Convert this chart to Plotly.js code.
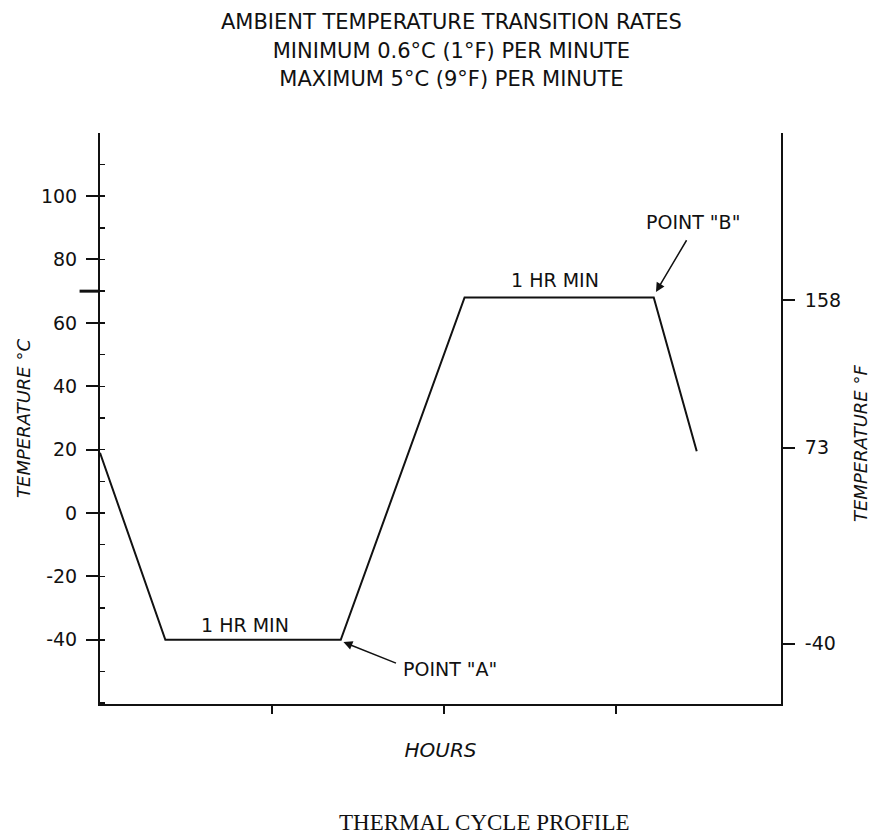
<!DOCTYPE html>
<html>
<head>
<meta charset="utf-8">
<script src="https://cdn.plot.ly/plotly-3.0.1.min.js"></script>
<style>html,body{margin:0;padding:0;background:#fff;}</style>
</head>
<body>
<div id="chart" style="width:870px;height:836px;"></div>
<script>
// Data
const hours = [0, 0.38, 1.40, 2.12, 3.22, 3.47];
const tempC = [19, -40, -40, 68, 68, 19.5];
const cTickVals = [-40, -20, 0, 20, 40, 60, 80, 100];
const fTickVals = [-40, 73, 158];
const hourTicks = [1, 2, 3];
const titleLines = [
  'AMBIENT TEMPERATURE TRANSITION RATES',
  'MINIMUM 0.6°C (1°F) PER MINUTE',
  'MAXIMUM 5°C (9°F) PER MINUTE'
];

const sans = 'DejaVu Sans, Liberation Sans, Arial, sans-serif';
const serif = 'Liberation Serif, Times New Roman, serif';

const trace = {
  x: hours, y: tempC, type: 'scatter', mode: 'lines',
  line: {color: '#111', width: 2}, hoverinfo: 'skip', showlegend: false
};
// invisible trace carrying the right-hand (°F) axis
const traceF = {
  x: [hours[0]], y: [fTickVals[0]], yaxis: 'y2', type: 'scatter', mode: 'markers',
  marker: {opacity: 0}, hoverinfo: 'skip', showlegend: false
};

const layout = {
  width: 870, height: 836,
  margin: {l: 100, r: 89, t: 133, b: 132},
  paper_bgcolor: '#fff', plot_bgcolor: '#fff',
  font: {family: sans, color: '#111', size: 19},
  title: {
    text: titleLines.map(t => '<span style="font-size:21px">' + t + '</span>').join('<br>'),
    font: {family: sans, size: 22, color: '#111'},
    x: 0.516, xanchor: 'center', xref: 'paper',
    y: 1 - 29/836, yanchor: 'middle', yref: 'container'
  },
  xaxis: {
    range: [0, 3.96], showgrid: false, zeroline: false,
    showline: true, linecolor: '#111', linewidth: 2,
    tickmode: 'array', tickvals: hourTicks, showticklabels: false,
    ticks: 'outside', ticklen: 8, tickwidth: 2, tickcolor: '#111',
    title: {text: '<i>HOURS</i>', font: {family: sans, size: 20}, standoff: 30}
  },
  yaxis: {
    range: [-60.25, 119.9], showgrid: false, zeroline: false,
    showline: true, linecolor: '#111', linewidth: 2,
    tickmode: 'array', tickvals: cTickVals, ticktext: cTickVals.map(String),
    ticks: 'outside', ticklen: 12, tickwidth: 2, tickcolor: '#111',
    ticklabelstandoff: 5,
    tickfont: {family: sans, size: 19},
    minor: {dtick: 10, tick0: 10, ticks: 'inside', ticklen: 5, tickwidth: 1.5, tickcolor: '#111'},
    title: {text: '<i>TEMPERATURE °C</i>', font: {family: sans, size: 18}, standoff: 6}
  },
  yaxis2: {
    overlaying: 'y', side: 'right',
    range: [-74.85, 254.3], showgrid: false, zeroline: false,
    showline: true, linecolor: '#111', linewidth: 2,
    tickmode: 'array', tickvals: fTickVals, ticktext: fTickVals.map(String),
    ticks: 'outside', ticklen: 12, tickwidth: 2, tickcolor: '#111',
    ticklabelstandoff: 6,
    tickfont: {family: sans, size: 19}
  },
  shapes: [
    {type: 'line', xref: 'paper', yref: 'y', x0: -0.03, x1: 0, y0: 70, y1: 70,
     line: {color: '#111', width: 3}}
  ],
  annotations: [
    {text: '1 HR MIN', x: 0.843, y: -35.3, xref: 'x', yref: 'y', showarrow: false,
     font: {family: sans, size: 19}},
    {text: '1 HR MIN', x: 2.645, y: 73.5, xref: 'x', yref: 'y', showarrow: false,
     font: {family: sans, size: 19}},
    {text: 'POINT "A"', x: 2.035, y: -49.1, xref: 'x', yref: 'y', showarrow: false,
     font: {family: sans, size: 19}},
    {text: '', x: 1.41, y: -40.6, xref: 'x', yref: 'y', showarrow: true,
     ax: 55, ay: 22, arrowhead: 2, arrowsize: 1.2, arrowwidth: 1.5, arrowcolor: '#111', standoff: 1},
    {text: 'POINT "B"', x: 3.45, y: 91.8, xref: 'x', yref: 'y', showarrow: false,
     font: {family: sans, size: 19}},
    {text: '', x: 3.23, y: 69.5, xref: 'x', yref: 'y', showarrow: true,
     ax: 32, ay: -54, arrowhead: 2, arrowsize: 1.2, arrowwidth: 1.5, arrowcolor: '#111', standoff: 1},
    {text: '<i>TEMPERATURE °F</i>', textangle: -90, xref: 'paper', yref: 'paper',
     x: (860 - 100) / 681, y: (704 - 444) / 571, xanchor: 'center', yanchor: 'middle',
     showarrow: false, font: {family: sans, size: 18}},
    {text: 'THERMAL CYCLE PROFILE', xref: 'paper', yref: 'paper',
     x: (485 - 100) / 681, y: (704 - 822) / 571,
     xanchor: 'center', yanchor: 'middle', showarrow: false,
     font: {family: serif, size: 23, color: '#111'}}
  ]
};

Plotly.newPlot('chart', [trace, traceF], layout, {displayModeBar: false, staticPlot: true});
</script>
</body>
</html>
